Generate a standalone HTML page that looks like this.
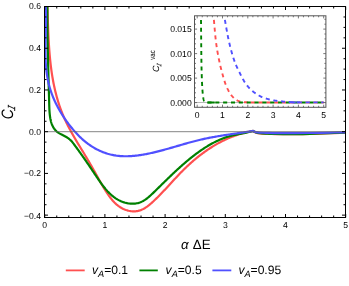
<!DOCTYPE html><html><head><meta charset="utf-8"><style>html,body{margin:0;padding:0;background:#fff}body{width:349px;height:286px;overflow:hidden;position:relative}svg{position:absolute;left:0;top:0;will-change:transform}text{text-rendering:geometricPrecision}</style></head><body><svg width="349" height="286" viewBox="0 0 349 286" style="display:block"><rect width="349" height="286" fill="#fff"/><defs><clipPath id="cm"><rect x="44.50" y="6.50" width="301.00" height="211.00"/></clipPath><clipPath id="ci"><rect x="194.5" y="15.8" width="131.4" height="91.5"/></clipPath></defs><g clip-path="url(#cm)" fill="none" stroke-width="2.2" stroke-linejoin="miter" stroke-miterlimit="10"><path d="M47.30 2.00L47.33 2.99L47.36 3.97L47.40 4.96L47.43 5.95L47.46 6.94L47.49 7.93L47.52 8.92L47.55 9.91L47.58 10.90L47.61 11.90L47.64 12.89L47.67 13.89L47.70 14.88L47.72 15.88L47.75 16.87L47.78 17.87L47.81 18.87L47.85 19.87L47.88 20.87L47.91 21.87L47.94 22.87L47.97 23.87L48.01 24.87L48.04 25.87L48.08 26.87L48.11 27.87L48.15 28.88L48.19 29.88L48.23 30.88L48.27 31.89L48.31 32.89L48.36 33.89L48.40 34.90L48.45 35.90L48.49 36.90L48.54 37.91L48.59 38.91L48.65 39.92L48.70 40.92L48.76 41.92L48.82 42.93L48.88 43.93L48.94 44.93L49.00 45.94L49.07 46.94L49.14 47.94L49.21 48.95L49.28 49.95L49.36 50.95L49.44 51.95L49.52 52.95L49.60 53.96L49.69 54.96L49.77 55.96L49.87 56.96L49.96 57.96L50.06 58.95L50.16 59.95L50.26 60.95L50.37 61.95L50.48 62.94L50.59 63.94L50.71 64.93L50.83 65.93L50.95 66.92L51.08 67.91L51.21 68.90L51.34 69.90L51.48 70.89L51.62 71.88L51.77 72.86L51.92 73.85L52.07 74.84L52.23 75.82L52.39 76.81L52.55 77.79L52.72 78.77L52.90 79.75L53.08 80.73L53.26 81.71L53.45 82.69L53.64 83.67L53.84 84.64L54.04 85.62L54.24 86.59L54.46 87.56L54.67 88.53L54.89 89.50L55.12 90.46L55.35 91.43L55.59 92.39L55.83 93.36L56.07 94.32L56.33 95.28L56.58 96.23L56.85 97.19L57.12 98.15L57.39 99.10L57.67 100.05L57.96 101.00L58.25 101.95L58.54 102.89L58.85 103.84L59.16 104.78L59.47 105.72L59.79 106.66L60.12 107.60L60.46 108.53L60.80 109.46L61.14 110.39L61.50 111.32L61.86 112.25L62.22 113.17L62.59 114.10L62.97 115.02L63.36 115.93L63.75 116.85L64.15 117.76L64.56 118.68L64.97 119.58L65.40 120.49L65.82 121.40L66.25 122.30L66.69 123.20L67.14 124.10L67.59 125.00L68.04 125.89L68.50 126.79L68.96 127.68L69.43 128.57L69.91 129.45L70.39 130.34L70.87 131.22L71.35 132.11L71.84 132.99L72.34 133.87L72.83 134.75L73.33 135.62L73.83 136.50L74.34 137.37L74.85 138.24L75.36 139.12L75.87 139.98L76.38 140.85L76.90 141.72L77.41 142.59L77.93 143.45L78.45 144.32L78.97 145.18L79.49 146.04L80.01 146.90L80.53 147.76L81.05 148.62L81.58 149.48L82.10 150.33L82.62 151.19L83.14 152.05L83.66 152.90L84.17 153.75L84.69 154.61L85.21 155.46L85.72 156.31L86.23 157.16L86.74 158.02L87.25 158.87L87.75 159.72L88.25 160.57L88.75 161.42L89.25 162.27L89.74 163.12L90.24 163.97L90.73 164.82L91.22 165.67L91.71 166.52L92.19 167.37L92.68 168.22L93.17 169.08L93.65 169.93L94.13 170.79L94.62 171.65L95.10 172.51L95.58 173.37L96.06 174.23L96.55 175.10L97.03 175.96L97.51 176.83L97.99 177.71L98.48 178.58L98.96 179.46L99.45 180.33L99.94 181.21L100.44 182.09L100.93 182.97L101.44 183.85L101.94 184.73L102.45 185.61L102.97 186.50L103.49 187.38L104.02 188.25L104.55 189.13L105.10 190.01L105.65 190.89L106.21 191.76L106.77 192.63L107.35 193.50L107.94 194.36L108.54 195.22L109.14 196.08L109.76 196.92L110.40 197.76L111.04 198.58L111.70 199.39L112.37 200.18L113.05 200.96L113.75 201.72L114.46 202.46L115.19 203.18L115.93 203.88L116.69 204.55L117.47 205.20L118.27 205.82L119.08 206.41L119.90 206.97L120.75 207.50L121.60 208.00L122.47 208.47L123.35 208.90L124.25 209.30L125.15 209.67L126.05 210.01L126.97 210.30L127.89 210.57L128.82 210.79L129.75 210.98L130.68 211.13L131.61 211.25L132.55 211.32L133.48 211.35L134.41 211.35L135.34 211.30L136.26 211.21L137.18 211.08L138.09 210.90L138.99 210.68L139.88 210.41L140.77 210.10L141.64 209.75L142.50 209.36L143.36 208.93L144.20 208.47L145.04 207.97L145.87 207.44L146.69 206.88L147.51 206.30L148.31 205.70L149.11 205.07L149.90 204.42L150.68 203.76L151.46 203.09L152.23 202.40L152.99 201.70L153.75 200.99L154.50 200.28L155.24 199.57L155.98 198.86L156.71 198.14L157.44 197.42L158.17 196.70L158.89 195.97L159.60 195.25L160.31 194.52L161.02 193.79L161.72 193.06L162.42 192.33L163.12 191.59L163.81 190.86L164.50 190.13L165.19 189.39L165.87 188.66L166.56 187.92L167.24 187.18L167.92 186.45L168.60 185.71L169.27 184.97L169.95 184.24L170.63 183.50L171.30 182.76L171.98 182.03L172.65 181.29L173.32 180.56L174.00 179.83L174.68 179.10L175.35 178.37L176.03 177.64L176.71 176.91L177.39 176.19L178.07 175.47L178.76 174.74L179.44 174.03L180.13 173.31L180.83 172.59L181.52 171.88L182.22 171.17L182.92 170.47L183.63 169.76L184.33 169.06L185.05 168.37L185.76 167.67L186.49 166.98L187.21 166.29L187.94 165.61L188.67 164.93L189.41 164.26L190.15 163.58L190.89 162.91L191.64 162.25L192.39 161.59L193.15 160.93L193.91 160.28L194.67 159.63L195.44 158.99L196.21 158.35L196.99 157.72L197.77 157.09L198.55 156.46L199.34 155.85L200.13 155.23L200.92 154.62L201.72 154.02L202.52 153.42L203.33 152.82L204.13 152.24L204.95 151.65L205.76 151.08L206.58 150.50L207.41 149.94L208.23 149.38L209.07 148.82L209.90 148.28L210.74 147.73L211.58 147.20L212.43 146.67L213.27 146.15L214.13 145.63L214.98 145.12L215.84 144.62L216.71 144.12L217.57 143.63L218.44 143.15L219.32 142.68L220.19 142.21L221.07 141.75L221.96 141.29L222.85 140.85L223.74 140.41L224.63 139.98L225.53 139.55L226.43 139.14L227.33 138.73L228.24 138.33L229.15 137.94L230.07 137.55L230.99 137.18L231.91 136.81L232.83 136.45L233.76 136.10L234.69 135.76L235.63 135.42L236.57 135.10L237.51 134.78L238.45 134.48L239.40 134.18L240.35 133.89L241.30 133.61L242.26 133.34L243.22 133.08L244.19 132.83L245.15 132.58L246.12 132.35L247.10 132.13L248.07 131.92L249.05 131.71L250.03 131.52L251.02 131.34L252.01 131.17L253.00 131.00L253.00 131.00 C253.50 131.27 254.83 132.22 256.00 132.60 C257.17 132.98 258.33 133.12 260.00 133.30 C261.67 133.48 263.50 133.57 266.00 133.70 C268.50 133.83 271.83 134.02 275.00 134.10 C278.17 134.18 281.67 134.18 285.00 134.20 C288.33 134.22 290.83 134.25 295.00 134.20 C299.17 134.15 304.17 134.07 310.00 133.90 C315.83 133.73 324.00 133.40 330.00 133.20 C336.00 133.00 343.33 132.78 346.00 132.70" stroke="#ff5050"/><path d="M47.40 2.00L47.39 3.03L47.39 4.06L47.38 5.08L47.38 6.11L47.37 7.13L47.37 8.15L47.37 9.17L47.37 10.19L47.37 11.20L47.37 12.22L47.37 13.23L47.37 14.24L47.37 15.25L47.37 16.26L47.38 17.26L47.38 18.27L47.39 19.27L47.39 20.27L47.40 21.27L47.40 22.27L47.41 23.27L47.42 24.26L47.43 25.26L47.44 26.25L47.45 27.25L47.46 28.24L47.47 29.23L47.48 30.22L47.49 31.21L47.50 32.20L47.52 33.19L47.53 34.17L47.54 35.16L47.56 36.15L47.57 37.13L47.59 38.12L47.60 39.10L47.62 40.08L47.64 41.07L47.65 42.05L47.67 43.03L47.69 44.01L47.71 45.00L47.73 45.98L47.74 46.96L47.76 47.94L47.78 48.92L47.80 49.90L47.82 50.89L47.85 51.87L47.87 52.85L47.89 53.83L47.91 54.81L47.93 55.80L47.96 56.78L47.98 57.76L48.00 58.74L48.03 59.73L48.05 60.71L48.07 61.70L48.10 62.68L48.12 63.67L48.15 64.65L48.17 65.64L48.20 66.63L48.22 67.62L48.25 68.61L48.28 69.60L48.30 70.59L48.33 71.58L48.35 72.57L48.38 73.57L48.41 74.56L48.43 75.56L48.46 76.56L48.49 77.56L48.52 78.56L48.54 79.56L48.57 80.56L48.60 81.56L48.63 82.57L48.65 83.58L48.68 84.59L48.71 85.60L48.74 86.61L48.77 87.62L48.79 88.64L48.82 89.65L48.85 90.67L48.88 91.69L48.91 92.71L48.93 93.74L48.96 94.76L48.99 95.79L49.02 96.82L49.05 97.85L49.07 98.89L49.10 99.93L49.13 100.96L49.16 102.01L49.18 103.05L49.21 104.09L49.24 105.14L49.27 106.19L49.31 107.24L49.34 108.28L49.39 109.32L49.44 110.36L49.51 111.40L49.58 112.42L49.66 113.44L49.76 114.45L49.87 115.46L50.00 116.45L50.14 117.43L50.30 118.40L50.48 119.35L50.69 120.29L50.91 121.21L51.16 122.11L51.43 123.00L51.73 123.87L52.06 124.72L52.42 125.54L52.80 126.35L53.22 127.13L53.67 127.88L54.15 128.61L54.67 129.31L55.23 129.99L55.83 130.63L56.46 131.23L57.14 131.80L57.85 132.35L58.62 132.87L59.42 133.37L60.27 133.85L61.16 134.33L62.08 134.80L63.01 135.27L63.95 135.75L64.89 136.24L65.82 136.75L66.74 137.28L67.62 137.83L68.46 138.42L69.26 139.04L70.02 139.70L70.74 140.39L71.42 141.10L72.07 141.84L72.71 142.60L73.32 143.38L73.92 144.17L74.52 144.98L75.11 145.79L75.71 146.60L76.30 147.42L76.90 148.24L77.50 149.06L78.10 149.89L78.69 150.72L79.29 151.55L79.89 152.38L80.49 153.21L81.08 154.05L81.67 154.88L82.26 155.71L82.85 156.54L83.43 157.37L84.01 158.19L84.59 159.01L85.16 159.83L85.72 160.65L86.28 161.46L86.84 162.27L87.39 163.08L87.94 163.89L88.49 164.69L89.04 165.49L89.58 166.29L90.12 167.10L90.66 167.90L91.20 168.70L91.74 169.50L92.28 170.30L92.82 171.11L93.36 171.91L93.90 172.72L94.44 173.53L94.99 174.34L95.53 175.16L96.09 175.98L96.64 176.80L97.20 177.63L97.76 178.46L98.33 179.29L98.90 180.12L99.48 180.96L100.06 181.79L100.65 182.62L101.25 183.45L101.85 184.28L102.46 185.10L103.08 185.92L103.71 186.73L104.35 187.53L105.00 188.32L105.65 189.11L106.32 189.88L106.99 190.64L107.68 191.40L108.38 192.13L109.09 192.86L109.81 193.57L110.55 194.26L111.30 194.94L112.06 195.60L112.83 196.24L113.62 196.86L114.43 197.45L115.25 198.03L116.08 198.59L116.94 199.12L117.80 199.63L118.69 200.11L119.59 200.57L120.50 200.99L121.43 201.39L122.37 201.77L123.32 202.11L124.27 202.42L125.24 202.70L126.21 202.95L127.19 203.16L128.17 203.34L129.15 203.49L130.13 203.60L131.11 203.67L132.09 203.70L133.07 203.70L134.04 203.66L135.00 203.58L135.96 203.45L136.91 203.29L137.85 203.08L138.77 202.83L139.69 202.53L140.59 202.19L141.48 201.81L142.35 201.38L143.21 200.92L144.06 200.42L144.89 199.89L145.72 199.33L146.53 198.74L147.34 198.13L148.13 197.49L148.92 196.83L149.70 196.16L150.47 195.47L151.24 194.77L152.00 194.06L152.75 193.35L153.50 192.63L154.24 191.90L154.98 191.18L155.72 190.46L156.45 189.75L157.18 189.03L157.91 188.32L158.63 187.61L159.35 186.90L160.07 186.20L160.79 185.49L161.51 184.79L162.22 184.09L162.93 183.39L163.64 182.70L164.35 182.00L165.06 181.31L165.77 180.62L166.47 179.93L167.18 179.25L167.89 178.56L168.59 177.88L169.30 177.19L170.00 176.51L170.71 175.84L171.42 175.16L172.13 174.48L172.84 173.81L173.55 173.14L174.26 172.47L174.98 171.80L175.69 171.13L176.41 170.46L177.13 169.80L177.85 169.14L178.58 168.47L179.31 167.81L180.04 167.15L180.77 166.50L181.51 165.84L182.25 165.18L183.00 164.53L183.75 163.87L184.50 163.22L185.26 162.57L186.02 161.92L186.79 161.27L187.56 160.63L188.33 159.98L189.11 159.34L189.89 158.71L190.68 158.07L191.47 157.44L192.26 156.81L193.06 156.18L193.86 155.56L194.67 154.95L195.48 154.33L196.29 153.72L197.11 153.12L197.93 152.52L198.75 151.93L199.58 151.34L200.41 150.76L201.25 150.18L202.08 149.61L202.93 149.04L203.77 148.49L204.62 147.94L205.48 147.39L206.33 146.85L207.19 146.33L208.06 145.80L208.92 145.29L209.79 144.78L210.67 144.29L211.54 143.80L212.42 143.32L213.31 142.85L214.19 142.39L215.08 141.93L215.98 141.49L216.87 141.06L217.77 140.64L218.67 140.23L219.58 139.82L220.49 139.43L221.40 139.05L222.31 138.69L223.23 138.33L224.15 137.99L225.07 137.65L226.00 137.33L226.93 137.02L227.86 136.73L228.80 136.45L229.73 136.18L230.67 135.92L231.62 135.68L232.56 135.45L233.51 135.22L234.46 135.01L235.42 134.81L236.37 134.61L237.33 134.42L238.29 134.23L239.26 134.04L240.22 133.85L241.19 133.67L242.16 133.48L243.14 133.29L244.11 133.10L245.09 132.91L246.07 132.70L247.06 132.49L248.04 132.27L249.03 132.04L250.02 131.80L251.01 131.55L252.00 131.28L253.00 131.00L253.00 131.00 C253.50 131.25 254.83 132.13 256.00 132.50 C257.17 132.87 258.33 133.02 260.00 133.20 C261.67 133.38 263.50 133.47 266.00 133.60 C268.50 133.73 271.83 133.92 275.00 134.00 C278.17 134.08 281.67 134.08 285.00 134.10 C288.33 134.12 290.83 134.15 295.00 134.10 C299.17 134.05 304.17 133.97 310.00 133.80 C315.83 133.63 324.00 133.30 330.00 133.10 C336.00 132.90 343.33 132.68 346.00 132.60" stroke="#008000"/><path d="M45.40 2.00L45.48 2.99L45.55 3.98L45.62 4.97L45.68 5.96L45.73 6.96L45.78 7.95L45.83 8.95L45.86 9.94L45.90 10.94L45.92 11.94L45.95 12.94L45.97 13.94L45.98 14.94L45.99 15.95L46.00 16.95L46.00 17.95L46.00 18.96L46.00 19.96L45.99 20.97L45.98 21.97L45.97 22.98L45.96 23.99L45.94 25.00L45.92 26.01L45.90 27.01L45.88 28.02L45.86 29.03L45.83 30.04L45.81 31.05L45.78 32.06L45.75 33.07L45.73 34.08L45.70 35.09L45.67 36.10L45.65 37.11L45.62 38.12L45.60 39.13L45.57 40.13L45.55 41.14L45.53 42.15L45.51 43.16L45.49 44.17L45.48 45.17L45.46 46.18L45.45 47.19L45.44 48.19L45.44 49.20L45.43 50.20L45.44 51.21L45.44 52.21L45.45 53.21L45.46 54.21L45.48 55.21L45.50 56.21L45.52 57.21L45.55 58.21L45.59 59.20L45.63 60.20L45.67 61.19L45.72 62.19L45.78 63.18L45.84 64.17L45.91 65.16L45.98 66.15L46.07 67.13L46.16 68.12L46.25 69.10L46.35 70.09L46.46 71.07L46.58 72.04L46.71 73.02L46.84 74.00L46.99 74.97L47.14 75.94L47.30 76.91L47.47 77.88L47.64 78.85L47.83 79.81L48.03 80.78L48.24 81.74L48.45 82.70L48.68 83.65L48.92 84.61L49.17 85.56L49.42 86.51L49.69 87.46L49.97 88.40L50.26 89.35L50.56 90.29L50.87 91.22L51.19 92.16L51.52 93.09L51.86 94.02L52.21 94.95L52.57 95.88L52.94 96.80L53.32 97.72L53.70 98.63L54.10 99.55L54.50 100.46L54.92 101.37L55.34 102.27L55.77 103.18L56.21 104.07L56.66 104.97L57.12 105.86L57.58 106.75L58.06 107.64L58.54 108.52L59.03 109.40L59.52 110.28L60.03 111.15L60.54 112.02L61.06 112.89L61.59 113.75L62.12 114.61L62.67 115.47L63.22 116.32L63.77 117.17L64.33 118.01L64.90 118.85L65.48 119.69L66.06 120.52L66.65 121.35L67.25 122.17L67.85 122.99L68.46 123.80L69.07 124.61L69.69 125.41L70.32 126.21L70.95 127.00L71.59 127.79L72.23 128.56L72.88 129.34L73.53 130.10L74.19 130.86L74.86 131.62L75.53 132.36L76.20 133.10L76.88 133.83L77.57 134.56L78.26 135.27L78.95 135.98L79.66 136.68L80.37 137.38L81.09 138.06L81.82 138.73L82.55 139.40L83.29 140.06L84.05 140.70L84.81 141.34L85.58 141.97L86.36 142.59L87.15 143.20L87.95 143.80L88.77 144.39L89.59 144.96L90.42 145.53L91.27 146.09L92.12 146.63L92.98 147.16L93.85 147.68L94.73 148.19L95.62 148.68L96.51 149.16L97.41 149.63L98.32 150.08L99.23 150.52L100.15 150.94L101.07 151.35L102.00 151.74L102.93 152.12L103.87 152.48L104.80 152.82L105.75 153.15L106.69 153.46L107.63 153.75L108.58 154.02L109.52 154.28L110.47 154.52L111.42 154.74L112.37 154.94L113.32 155.13L114.28 155.31L115.23 155.46L116.19 155.61L117.14 155.73L118.10 155.85L119.06 155.94L120.02 156.03L120.98 156.10L121.95 156.15L122.91 156.20L123.87 156.23L124.84 156.25L125.81 156.25L126.77 156.25L127.74 156.23L128.71 156.20L129.68 156.16L130.65 156.11L131.62 156.04L132.60 155.97L133.57 155.89L134.54 155.80L135.52 155.70L136.49 155.59L137.47 155.47L138.45 155.34L139.42 155.21L140.40 155.06L141.38 154.91L142.36 154.76L143.34 154.59L144.32 154.42L145.30 154.24L146.28 154.05L147.26 153.86L148.25 153.67L149.23 153.46L150.21 153.25L151.20 153.04L152.18 152.82L153.16 152.59L154.15 152.36L155.13 152.13L156.12 151.89L157.10 151.64L158.09 151.40L159.07 151.14L160.06 150.89L161.04 150.63L162.03 150.37L163.01 150.10L164.00 149.83L164.98 149.56L165.97 149.29L166.96 149.01L167.94 148.74L168.93 148.46L169.91 148.18L170.90 147.89L171.88 147.61L172.87 147.32L173.85 147.04L174.84 146.75L175.82 146.47L176.81 146.18L177.79 145.89L178.77 145.60L179.76 145.32L180.74 145.03L181.72 144.75L182.70 144.46L183.68 144.18L184.67 143.90L185.65 143.62L186.63 143.34L187.61 143.06L188.58 142.79L189.56 142.52L190.54 142.25L191.52 141.99L192.50 141.72L193.47 141.46L194.45 141.21L195.42 140.95L196.39 140.71L197.37 140.46L198.34 140.22L199.31 139.99L200.28 139.75L201.25 139.53L202.22 139.31L203.19 139.09L204.16 138.88L205.12 138.67L206.09 138.46L207.06 138.26L208.02 138.07L208.99 137.88L209.95 137.69L210.92 137.50L211.88 137.32L212.84 137.14L213.81 136.97L214.77 136.80L215.74 136.63L216.70 136.46L217.67 136.29L218.63 136.13L219.60 135.97L220.56 135.82L221.53 135.66L222.49 135.51L223.46 135.35L224.43 135.20L225.39 135.06L226.36 134.91L227.33 134.76L228.30 134.62L229.27 134.47L230.25 134.33L231.22 134.19L232.19 134.04L233.17 133.90L234.14 133.76L235.12 133.62L236.10 133.48L237.08 133.34L238.06 133.19L239.05 133.05L240.03 132.91L241.02 132.76L242.01 132.62L243.00 132.47L243.99 132.33L244.98 132.18L245.98 132.03L246.97 131.87L247.97 131.72L248.97 131.56L249.98 131.40L250.98 131.24L251.99 131.07L253.00 130.90L253.00 130.90 C253.50 131.10 254.83 131.82 256.00 132.10 C257.17 132.38 258.33 132.48 260.00 132.60 C261.67 132.72 263.50 132.72 266.00 132.80 C268.50 132.88 271.83 133.03 275.00 133.10 C278.17 133.17 281.67 133.18 285.00 133.20 C288.33 133.22 290.83 133.23 295.00 133.20 C299.17 133.17 304.17 133.10 310.00 133.00 C315.83 132.90 324.00 132.72 330.00 132.60 C336.00 132.48 343.33 132.35 346.00 132.30" stroke="#5050ff"/></g><line x1="44.50" y1="131.70" x2="345.50" y2="131.70" stroke="#666" stroke-width="0.8"/><rect x="44.50" y="6.50" width="301.00" height="211.00" fill="none" stroke="#000" stroke-width="1"/><path d="M44.70 217.50v-3.50M44.70 6.50v3.50M56.74 217.50v-2.00M56.74 6.50v2.00M68.78 217.50v-2.00M68.78 6.50v2.00M80.82 217.50v-2.00M80.82 6.50v2.00M92.86 217.50v-2.00M92.86 6.50v2.00M104.90 217.50v-3.50M104.90 6.50v3.50M116.94 217.50v-2.00M116.94 6.50v2.00M128.98 217.50v-2.00M128.98 6.50v2.00M141.02 217.50v-2.00M141.02 6.50v2.00M153.06 217.50v-2.00M153.06 6.50v2.00M165.10 217.50v-3.50M165.10 6.50v3.50M177.14 217.50v-2.00M177.14 6.50v2.00M189.18 217.50v-2.00M189.18 6.50v2.00M201.22 217.50v-2.00M201.22 6.50v2.00M213.26 217.50v-2.00M213.26 6.50v2.00M225.30 217.50v-3.50M225.30 6.50v3.50M237.34 217.50v-2.00M237.34 6.50v2.00M249.38 217.50v-2.00M249.38 6.50v2.00M261.42 217.50v-2.00M261.42 6.50v2.00M273.46 217.50v-2.00M273.46 6.50v2.00M285.50 217.50v-3.50M285.50 6.50v3.50M297.54 217.50v-2.00M297.54 6.50v2.00M309.58 217.50v-2.00M309.58 6.50v2.00M321.62 217.50v-2.00M321.62 6.50v2.00M333.66 217.50v-2.00M333.66 6.50v2.00M345.70 217.50v-3.50M345.70 6.50v3.50M44.50 215.14h3.50M345.50 215.14h-3.50M44.50 204.71h2.00M345.50 204.71h-2.00M44.50 194.28h2.00M345.50 194.28h-2.00M44.50 183.85h2.00M345.50 183.85h-2.00M44.50 173.42h3.50M345.50 173.42h-3.50M44.50 162.99h2.00M345.50 162.99h-2.00M44.50 152.56h2.00M345.50 152.56h-2.00M44.50 142.13h2.00M345.50 142.13h-2.00M44.50 131.70h3.50M345.50 131.70h-3.50M44.50 121.27h2.00M345.50 121.27h-2.00M44.50 110.84h2.00M345.50 110.84h-2.00M44.50 100.41h2.00M345.50 100.41h-2.00M44.50 89.98h3.50M345.50 89.98h-3.50M44.50 79.55h2.00M345.50 79.55h-2.00M44.50 69.12h2.00M345.50 69.12h-2.00M44.50 58.69h2.00M345.50 58.69h-2.00M44.50 48.26h3.50M345.50 48.26h-3.50M44.50 37.83h2.00M345.50 37.83h-2.00M44.50 27.40h2.00M345.50 27.40h-2.00M44.50 16.97h2.00M345.50 16.97h-2.00M44.50 6.54h3.50M345.50 6.54h-3.50" stroke="#000" stroke-width="1" fill="none"/><g font-family="Liberation Sans, sans-serif" font-size="8.6" fill="#000"><text x="44.70" y="228.3" text-anchor="middle">0</text><text x="104.90" y="228.3" text-anchor="middle">1</text><text x="165.10" y="228.3" text-anchor="middle">2</text><text x="225.30" y="228.3" text-anchor="middle">3</text><text x="285.50" y="228.3" text-anchor="middle">4</text><text x="345.70" y="228.3" text-anchor="middle">5</text><text x="41" y="9.04" text-anchor="end">0.6</text><text x="41" y="51.26" text-anchor="end">0.4</text><text x="41" y="92.98" text-anchor="end">0.2</text><text x="41" y="134.70" text-anchor="end">0.0</text><text x="41" y="176.42" text-anchor="end">−0.2</text><text x="41" y="219.34" text-anchor="end">−0.4</text></g><rect x="194.5" y="15.8" width="131.4" height="91.5" fill="#fff" stroke="none"/><line x1="194.5" y1="102.5" x2="325.7" y2="102.5" stroke="#999" stroke-width="0.7"/><g clip-path="url(#ci)" fill="none" stroke-width="1.9" stroke-dasharray="4.1 3.8"><path d="M213.90 19.90L213.93 20.28L213.97 20.74L214.02 21.28L214.07 21.88L214.12 22.53L214.18 23.24L214.24 23.98L214.31 24.76L214.38 25.55L214.45 26.37L214.53 27.18L214.60 28.00L214.68 28.84L214.76 29.73L214.84 30.66L214.93 31.62L215.02 32.61L215.11 33.61L215.21 34.61L215.30 35.61L215.40 36.60L215.50 37.57L215.60 38.50L215.70 39.40L215.80 40.27L215.90 41.11L216.00 41.95L216.11 42.77L216.21 43.57L216.32 44.37L216.43 45.15L216.54 45.93L216.65 46.71L216.76 47.47L216.88 48.24L217.00 49.00L217.12 49.75L217.24 50.50L217.37 51.22L217.50 51.94L217.63 52.66L217.76 53.37L217.89 54.08L218.03 54.79L218.16 55.50L218.31 56.23L218.45 56.96L218.60 57.70L218.75 58.45L218.91 59.22L219.06 59.99L219.22 60.77L219.38 61.55L219.55 62.33L219.72 63.12L219.89 63.90L220.06 64.68L220.24 65.46L220.42 66.23L220.60 67.00L220.79 67.76L220.98 68.53L221.17 69.29L221.37 70.06L221.57 70.82L221.77 71.58L221.97 72.34L222.18 73.09L222.38 73.83L222.59 74.56L222.80 75.29L223.00 76.00L223.20 76.71L223.41 77.41L223.61 78.10L223.81 78.79L224.01 79.47L224.21 80.14L224.42 80.81L224.63 81.47L224.84 82.11L225.05 82.75L225.27 83.38L225.50 84.00L225.73 84.61L225.97 85.21L226.20 85.80L226.44 86.38L226.69 86.95L226.94 87.52L227.19 88.07L227.44 88.62L227.70 89.15L227.97 89.68L228.23 90.19L228.50 90.70L228.77 91.20L229.05 91.68L229.33 92.16L229.61 92.63L229.90 93.09L230.19 93.54L230.49 93.98L230.79 94.41L231.09 94.83L231.39 95.23L231.69 95.62L232.00 96.00L232.31 96.37L232.63 96.72L232.95 97.06L233.28 97.39L233.61 97.71L233.94 98.02L234.28 98.31L234.61 98.60L234.94 98.87L235.26 99.12L235.58 99.37L235.90 99.60L236.21 99.82L236.52 100.02L236.82 100.20L237.12 100.37L237.42 100.53L237.71 100.68L238.01 100.82L238.30 100.95L238.60 101.07L238.90 101.18L239.20 101.29L239.50 101.40L239.79 101.50L240.08 101.58L240.35 101.66L240.61 101.73L240.88 101.78L241.15 101.84L241.43 101.89L241.73 101.93L242.05 101.97L242.40 102.01L242.78 102.06L243.20 102.10L243.68 102.15L244.23 102.19L244.84 102.23L245.49 102.27L246.16 102.31L246.83 102.34L247.49 102.38L248.12 102.41L248.71 102.44L249.22 102.46L249.66 102.48L250.00 102.50L250.40 102.50" stroke="#ff5050" stroke-dasharray="4.1 3.65"/><path d="M250.70 102.50H323.7" stroke="#ff5050" stroke-dasharray="4.1 3.75"/><path d="M201.00 19.90L201.02 21.90L201.04 24.50L201.07 27.58L201.10 31.04L201.13 34.78L201.17 38.70L201.21 42.69L201.24 46.64L201.28 50.45L201.32 54.02L201.36 57.23L201.40 60.00L201.44 62.40L201.48 64.59L201.51 66.60L201.55 68.45L201.59 70.16L201.63 71.76L201.67 73.25L201.71 74.67L201.76 76.03L201.80 77.36L201.85 78.68L201.90 80.00L201.95 81.30L202.00 82.52L202.06 83.68L202.11 84.78L202.17 85.82L202.22 86.81L202.28 87.76L202.34 88.67L202.41 89.54L202.47 90.38L202.53 91.20L202.60 92.00L202.67 92.77L202.73 93.50L202.80 94.20L202.87 94.86L202.94 95.48L203.01 96.08L203.09 96.63L203.16 97.16L203.24 97.66L203.32 98.13L203.41 98.58L203.50 99.00L203.59 99.39L203.68 99.73L203.78 100.04L203.87 100.32L203.97 100.57L204.07 100.79L204.17 100.99L204.29 101.18L204.40 101.35L204.53 101.50L204.66 101.65L204.80 101.80L204.93 101.93L205.05 102.05L205.15 102.14L205.25 102.21L205.36 102.28L205.48 102.32L205.63 102.36L205.80 102.40L206.02 102.42L206.29 102.45L206.61 102.47L207.00 102.50L207.49 102.52L208.09 102.54L208.78 102.55L209.53 102.55L210.33 102.55L211.14 102.54L211.94 102.54L212.71 102.53L213.43 102.52L214.06 102.51L214.59 102.50L215.00 102.50L207.10 102.50" stroke="#008000" stroke-dasharray="4.1 3.65"/><path d="M207.40 102.50H323.7" stroke="#008000" stroke-dasharray="4.1 3.75"/><path d="M224.90 19.90L224.98 20.34L225.07 20.88L225.18 21.50L225.30 22.21L225.43 22.98L225.57 23.80L225.72 24.66L225.88 25.53L226.03 26.42L226.19 27.30L226.35 28.17L226.50 29.00L226.65 29.82L226.81 30.67L226.96 31.53L227.13 32.40L227.29 33.28L227.46 34.17L227.63 35.06L227.80 35.94L227.97 36.83L228.14 37.70L228.32 38.56L228.50 39.40L228.68 40.23L228.86 41.06L229.05 41.88L229.24 42.69L229.43 43.50L229.62 44.31L229.81 45.10L230.01 45.90L230.20 46.68L230.40 47.46L230.60 48.23L230.80 49.00L231.00 49.76L231.20 50.51L231.40 51.26L231.60 52.00L231.81 52.73L232.01 53.46L232.22 54.18L232.43 54.90L232.64 55.61L232.86 56.31L233.08 57.01L233.30 57.70L233.53 58.38L233.76 59.06L233.99 59.73L234.22 60.40L234.46 61.06L234.70 61.71L234.94 62.36L235.19 63.00L235.44 63.63L235.69 64.26L235.94 64.88L236.20 65.50L236.46 66.11L236.72 66.70L236.99 67.29L237.26 67.87L237.54 68.44L237.81 69.01L238.09 69.57L238.37 70.13L238.65 70.70L238.93 71.26L239.22 71.83L239.50 72.40L239.78 72.98L240.07 73.56L240.35 74.15L240.64 74.74L240.92 75.33L241.21 75.91L241.50 76.50L241.80 77.07L242.09 77.65L242.39 78.21L242.69 78.76L243.00 79.30L243.31 79.83L243.62 80.36L243.94 80.88L244.26 81.39L244.59 81.90L244.91 82.39L245.24 82.88L245.57 83.37L245.90 83.84L246.23 84.30L246.57 84.76L246.90 85.20L247.23 85.63L247.56 86.05L247.89 86.46L248.22 86.86L248.55 87.24L248.88 87.62L249.22 88.00L249.56 88.37L249.91 88.73L250.26 89.09L250.63 89.45L251.00 89.80L251.39 90.15L251.78 90.50L252.19 90.85L252.60 91.19L253.02 91.53L253.44 91.86L253.87 92.18L254.30 92.50L254.73 92.81L255.16 93.12L255.58 93.41L256.00 93.70L256.41 93.98L256.82 94.25L257.23 94.51L257.63 94.77L258.03 95.01L258.44 95.26L258.85 95.49L259.26 95.72L259.68 95.95L260.11 96.17L260.55 96.39L261.00 96.60L261.46 96.81L261.94 97.02L262.43 97.22L262.92 97.41L263.42 97.60L263.93 97.79L264.44 97.97L264.95 98.14L265.46 98.32L265.98 98.48L266.49 98.64L267.00 98.80L267.50 98.95L268.00 99.10L268.50 99.24L268.99 99.37L269.49 99.50L269.99 99.62L270.49 99.75L271.01 99.86L271.53 99.98L272.07 100.09L272.63 100.19L273.20 100.30L273.79 100.40L274.41 100.50L275.04 100.59L275.69 100.68L276.34 100.77L277.01 100.85L277.68 100.93L278.35 101.01L279.02 101.08L279.69 101.16L280.35 101.23L281.00 101.30L281.63 101.37L282.25 101.44L282.85 101.50L283.44 101.57L284.03 101.63L284.63 101.69L285.24 101.74L285.87 101.80L286.52 101.85L287.21 101.90L287.93 101.95L288.70 102.00L289.55 102.05L290.51 102.09L291.54 102.13L292.62 102.17L293.73 102.21L294.83 102.24L295.91 102.28L296.94 102.31L297.89 102.34L298.73 102.36L299.44 102.38L300.00 102.40L289.60 102.40" stroke="#5050ff" stroke-dasharray="4.1 3.65"/><path d="M289.90 102.40H323.7" stroke="#5050ff" stroke-dasharray="4.1 3.75"/></g><rect x="194.5" y="15.8" width="131.4" height="91.5" fill="none" stroke="#555" stroke-width="1"/><path d="M197.20 107.3v-2.60M197.20 15.8v2.60M202.26 107.3v-1.50M202.26 15.8v1.50M207.32 107.3v-1.50M207.32 15.8v1.50M212.38 107.3v-1.50M212.38 15.8v1.50M217.44 107.3v-1.50M217.44 15.8v1.50M222.50 107.3v-2.60M222.50 15.8v2.60M227.56 107.3v-1.50M227.56 15.8v1.50M232.62 107.3v-1.50M232.62 15.8v1.50M237.68 107.3v-1.50M237.68 15.8v1.50M242.74 107.3v-1.50M242.74 15.8v1.50M247.80 107.3v-2.60M247.80 15.8v2.60M252.86 107.3v-1.50M252.86 15.8v1.50M257.92 107.3v-1.50M257.92 15.8v1.50M262.98 107.3v-1.50M262.98 15.8v1.50M268.04 107.3v-1.50M268.04 15.8v1.50M273.10 107.3v-2.60M273.10 15.8v2.60M278.16 107.3v-1.50M278.16 15.8v1.50M283.22 107.3v-1.50M283.22 15.8v1.50M288.28 107.3v-1.50M288.28 15.8v1.50M293.34 107.3v-1.50M293.34 15.8v1.50M298.40 107.3v-2.60M298.40 15.8v2.60M303.46 107.3v-1.50M303.46 15.8v1.50M308.52 107.3v-1.50M308.52 15.8v1.50M313.58 107.3v-1.50M313.58 15.8v1.50M318.64 107.3v-1.50M318.64 15.8v1.50M323.70 107.3v-2.60M323.70 15.8v2.60M194.5 102.60h2.60M325.9 102.60h-2.60M194.5 97.70h1.50M325.9 97.70h-1.50M194.5 92.80h1.50M325.9 92.80h-1.50M194.5 87.90h1.50M325.9 87.90h-1.50M194.5 83.00h1.50M325.9 83.00h-1.50M194.5 78.10h2.60M325.9 78.10h-2.60M194.5 73.20h1.50M325.9 73.20h-1.50M194.5 68.30h1.50M325.9 68.30h-1.50M194.5 63.40h1.50M325.9 63.40h-1.50M194.5 58.50h1.50M325.9 58.50h-1.50M194.5 53.60h2.60M325.9 53.60h-2.60M194.5 48.70h1.50M325.9 48.70h-1.50M194.5 43.80h1.50M325.9 43.80h-1.50M194.5 38.90h1.50M325.9 38.90h-1.50M194.5 34.00h1.50M325.9 34.00h-1.50M194.5 29.10h2.60M325.9 29.10h-2.60M194.5 24.20h1.50M325.9 24.20h-1.50M194.5 19.30h1.50M325.9 19.30h-1.50" stroke="#555" stroke-width="0.8" fill="none"/><g font-family="Liberation Sans, sans-serif" font-size="8.6" fill="#000"><text x="197.20" y="118" text-anchor="middle">0</text><text x="222.50" y="118" text-anchor="middle">1</text><text x="247.80" y="118" text-anchor="middle">2</text><text x="273.10" y="118" text-anchor="middle">3</text><text x="298.40" y="118" text-anchor="middle">4</text><text x="323.70" y="118" text-anchor="middle">5</text><text x="191.7" y="32.20" text-anchor="end">0.015</text><text x="191.7" y="56.70" text-anchor="end">0.010</text><text x="191.7" y="81.20" text-anchor="end">0.005</text><text x="191.7" y="105.70" text-anchor="end">0.000</text></g><g transform="translate(158.7,72) rotate(-90)" font-family="Liberation Sans, sans-serif" fill="#000"><text x="0" y="0" font-size="9" font-style="italic">C</text><path d="M5.3 2.3h2.4M7.3 -1.5h1.7M6.5 2.3L8.2 -1.5" stroke="#000" stroke-width="0.6" fill="none"/><text transform="translate(12.3,-3.7) scale(0.92,1.2)" font-size="6.6">vac</text></g><g transform="translate(12.9,119.3) rotate(-90)" font-family="Liberation Sans, sans-serif" fill="#000"><text transform="scale(0.9,1.07)" x="0" y="0" font-size="15.4" font-style="italic">C</text><path d="M8.3 1.8h4.1M11.8 -4.6h2.7M10.5 1.8L13.5 -4.6" stroke="#000" stroke-width="0.9" fill="none"/></g><text x="181" y="249.4" font-family="Liberation Sans, sans-serif" font-size="13.3" fill="#000"><tspan font-style="italic">α</tspan><tspan x="192.8">ΔE</tspan></text><line x1="65.8" y1="270.4" x2="84.7" y2="270.4" stroke="#ff5050" stroke-width="1.8"/><text x="92.0" y="274" font-family="Liberation Sans, sans-serif" font-size="12.1" fill="#000"><tspan font-style="italic">v</tspan><tspan font-style="italic" font-size="9.2" dy="2.6">A</tspan><tspan dy="-2.6">=0.1</tspan></text><line x1="139.4" y1="270.4" x2="157.8" y2="270.4" stroke="#008000" stroke-width="1.8"/><text x="165.6" y="274" font-family="Liberation Sans, sans-serif" font-size="12.1" fill="#000"><tspan font-style="italic">v</tspan><tspan font-style="italic" font-size="9.2" dy="2.6">A</tspan><tspan dy="-2.6">=0.5</tspan></text><line x1="212.4" y1="270.4" x2="231.3" y2="270.4" stroke="#5050ff" stroke-width="1.8"/><text x="238.4" y="274" font-family="Liberation Sans, sans-serif" font-size="12.1" fill="#000"><tspan font-style="italic">v</tspan><tspan font-style="italic" font-size="9.2" dy="2.6">A</tspan><tspan dy="-2.6">=0.95</tspan></text></svg></body></html>
